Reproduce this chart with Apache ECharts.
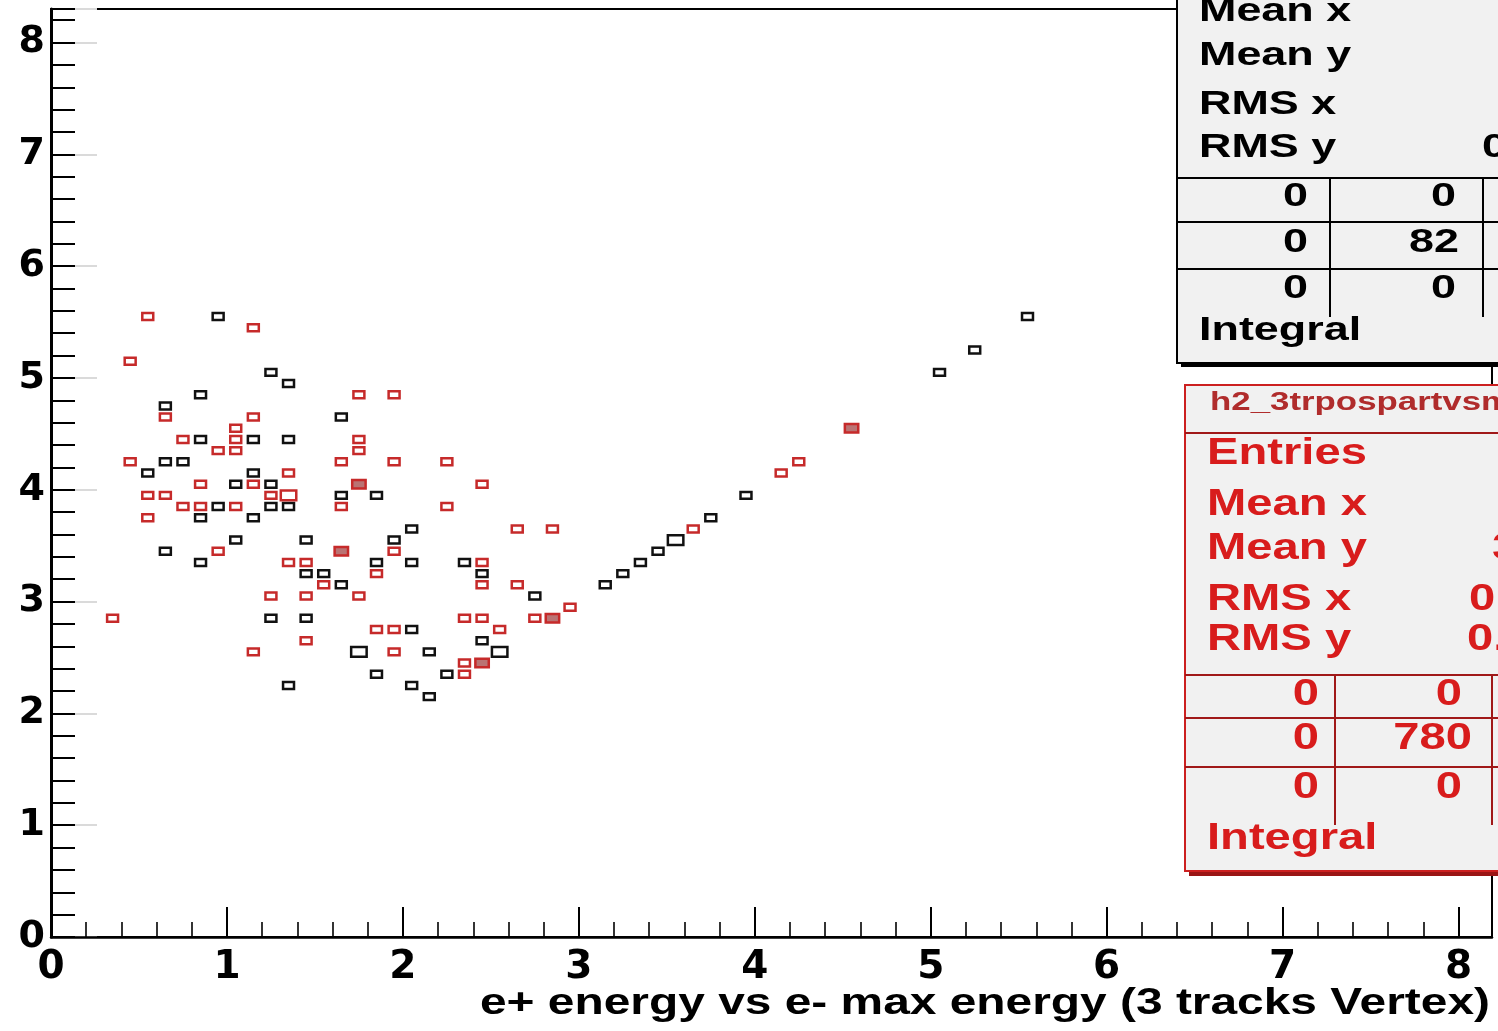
<!DOCTYPE html>
<html>
<head>
<meta charset="utf-8">
<script src="https://cdn.jsdelivr.net/npm/echarts@6/dist/echarts.min.js"></script>
<style>
  html, body { margin: 0; padding: 0; background: #ffffff; }
  #chart { width: 1498px; height: 1031px; }
</style>
</head>
<body>
<div id="chart"></div>
<script>
// Bin contents of the two overlaid 2D histograms: [x bin centre, y bin centre, count]
// Bins are 0.1 x 0.1 wide.
const blackCells = [
  [0.95, 5.55, 1], [1.25, 5.05, 1], [1.35, 4.95, 1], [0.85, 4.85, 1], [0.65, 4.75, 1],
  [1.65, 4.65, 1], [0.85, 4.45, 1], [1.15, 4.45, 1], [1.35, 4.45, 1], [0.65, 4.25, 1],
  [0.75, 4.25, 1], [0.55, 4.15, 1], [1.15, 4.15, 1], [1.05, 4.05, 1], [1.25, 4.05, 1],
  [1.65, 3.95, 1], [1.85, 3.95, 1], [0.95, 3.85, 1], [1.25, 3.85, 1], [1.35, 3.85, 1],
  [0.85, 3.75, 1], [1.15, 3.75, 1], [2.05, 3.65, 1], [1.05, 3.55, 1], [1.45, 3.55, 1],
  [1.95, 3.55, 1], [0.65, 3.45, 1], [0.85, 3.35, 1], [1.85, 3.35, 1], [2.05, 3.35, 1],
  [2.35, 3.35, 1], [1.45, 3.25, 1], [1.55, 3.25, 1], [2.45, 3.25, 1], [1.65, 3.15, 1],
  [2.75, 3.05, 1], [1.25, 2.85, 1], [1.45, 2.85, 1], [2.05, 2.75, 1], [2.45, 2.65, 1],
  [1.75, 2.55, 2], [2.15, 2.55, 1], [2.55, 2.55, 2], [1.85, 2.35, 1], [2.25, 2.35, 1],
  [1.35, 2.25, 1], [2.05, 2.25, 1], [2.15, 2.15, 1],
  [3.15, 3.15, 1], [3.25, 3.25, 1], [3.35, 3.35, 1], [3.45, 3.45, 1], [3.55, 3.55, 2],
  [3.75, 3.75, 1], [3.95, 3.95, 1], [5.05, 5.05, 1], [5.25, 5.25, 1], [5.55, 5.55, 1]
];

const redCells = [
  [0.55, 5.55, 2], [1.15, 5.45, 2], [0.45, 5.15, 2], [1.75, 4.85, 2], [1.95, 4.85, 2],
  [0.65, 4.65, 2], [1.15, 4.65, 2], [1.05, 4.55, 2], [0.75, 4.45, 2], [1.05, 4.45, 2],
  [1.75, 4.45, 2], [0.95, 4.35, 2], [1.05, 4.35, 2], [1.75, 4.35, 2], [0.45, 4.25, 2],
  [1.65, 4.25, 2], [1.95, 4.25, 2], [2.25, 4.25, 2], [1.35, 4.15, 2], [0.85, 4.05, 2],
  [1.15, 4.05, 2], [1.75, 4.05, 3], [2.45, 4.05, 2], [0.55, 3.95, 2], [0.65, 3.95, 2],
  [1.25, 3.95, 2], [1.35, 3.95, 4], [0.75, 3.85, 2], [0.85, 3.85, 2], [1.05, 3.85, 2],
  [1.65, 3.85, 2], [2.25, 3.85, 2], [0.55, 3.75, 2], [2.65, 3.65, 2], [2.85, 3.65, 2],
  [0.95, 3.45, 2], [1.65, 3.45, 3], [1.95, 3.45, 2], [1.35, 3.35, 2], [1.45, 3.35, 2],
  [2.45, 3.35, 2], [1.85, 3.25, 2], [1.55, 3.15, 2], [2.45, 3.15, 2], [2.65, 3.15, 2],
  [1.25, 3.05, 2], [1.45, 3.05, 2], [1.75, 3.05, 2], [2.95, 2.95, 2], [0.35, 2.85, 2],
  [2.35, 2.85, 2], [2.45, 2.85, 2], [2.75, 2.85, 2], [2.85, 2.85, 3], [1.85, 2.75, 2],
  [1.95, 2.75, 2], [2.55, 2.75, 2], [1.45, 2.65, 2], [1.15, 2.55, 2], [1.95, 2.55, 2],
  [2.35, 2.45, 2], [2.45, 2.45, 3], [2.35, 2.35, 2],
  [3.65, 3.65, 2], [4.15, 4.15, 2], [4.25, 4.25, 2], [4.55, 4.55, 3]
];

// Axis tick labels
const xTickLabels = ['0', '1', '2', '3', '4', '5', '6', '7', '8'];
const yTickLabels = ['0', '1', '2', '3', '4', '5', '6', '7', '8'];
const xAxisTitle = 'e+ energy vs e- max energy (3 tracks Vertex)';

// Statistics boxes
const blackStatLabels = ['Mean x', 'Mean y', 'RMS x', 'RMS y'];
const blackTable = [['0', '0'], ['0', '82'], ['0', '0']];
const redStatTitle = 'h2_3trpospartvsm';
const redStatLabels = ['Entries', 'Mean x', 'Mean y', 'RMS x', 'RMS y'];
const redTable = [['0', '0'], ['0', '780'], ['0', '0']];

const BIN_W = 0.1, BIN_H = 0.1;
const X_MAX = 8.19, Y_MAX = 8.3;
const BOX_FILL_RATIO = 0.88;   // largest box covers this share of a bin

// Box side scales with the square root of the bin content (box area ~ content)
function boxRenderer(color, maxCount, darkFill) {
  return function (params, api) {
    const c = api.value(2);
    const centre = api.coord([api.value(0), api.value(1)]);
    const full = api.size([BIN_W, BIN_H]);
    const frac = Math.sqrt(c / maxCount) * BOX_FILL_RATIO;
    const w = full[0] * frac, h = full[1] * frac;
    return {
      type: 'rect',
      shape: { x: centre[0] - w / 2, y: centre[1] - h / 2, width: w, height: h },
      style: {
        fill: (darkFill && c === 3) ? 'rgba(130,0,0,0.55)' : 'none',
        stroke: color,
        lineWidth: 2.5
      }
    };
  };
}

function maxOf(cells) { return Math.max.apply(null, cells.map(d => d[2])); }

function isInt(v) { return Math.abs(v - Math.round(v)) < 1e-6; }

const FONT = '"Liberation Sans", Arial, sans-serif';

function txt(str, x, y, size, sx, color, align) {
  return {
    type: 'text', x: x, y: y, scaleX: sx, z: 120,
    style: {
      text: str, font: 'bold ' + size + 'px ' + FONT, fill: color,
      align: align || 'left', verticalAlign: 'middle'
    }
  };
}
function ln(x1, y1, x2, y2, color, w) {
  return { type: 'line', z: 115, shape: { x1: x1, y1: y1, x2: x2, y2: y2 }, style: { stroke: color, lineWidth: w } };
}

// ---- statistics box (black histogram) ----
const gBlack = [];
gBlack.push({ type: 'rect', z: 110, shape: { x: 1181, y: -20, width: 340, height: 387 }, style: { fill: '#000' } });
gBlack.push({ type: 'rect', z: 111, shape: { x: 1177, y: -20, width: 340, height: 383 }, style: { fill: '#f1f1f1', stroke: '#000', lineWidth: 2 } });
const blackRowY = [12, 56, 105, 148];
blackStatLabels.forEach((s, i) => gBlack.push(txt(s, 1199, blackRowY[i], 33, 1.36, '#000')));
gBlack.push(txt('0', 1482, 148, 33, 1.36, '#000'));
[178, 222, 269].forEach(y => gBlack.push(ln(1177, y, 1510, y, '#000', 2)));
gBlack.push(ln(1330, 178, 1330, 317, '#000', 2));
gBlack.push(ln(1483, 178, 1483, 317, '#000', 2));
const blackTabY = [197, 243, 289];
const blackColR = [1308, 1456];
blackTable.forEach((row, r) => row.forEach((s, c) => gBlack.push(txt(s, blackColR[c] + (s.length > 1 ? 3 : 0), blackTabY[r], 33, 1.36, '#000', 'right'))));
gBlack.push(txt('Integral', 1199, 331, 33, 1.36, '#000'));

// ---- statistics box (red histogram) ----
const RED = '#d81c1c';
const gRed = [];
gRed.push({ type: 'rect', z: 110, shape: { x: 1189, y: 389, width: 340, height: 487 }, style: { fill: '#9a1515' } });
gRed.push({ type: 'rect', z: 111, shape: { x: 1185, y: 385, width: 340, height: 486 }, style: { fill: '#f1f1f1', stroke: '#cc2020', lineWidth: 2 } });
gRed.push(txt(redStatTitle, 1210, 403, 26, 1.34, '#b02c2c'));
gRed.push(ln(1185, 433, 1510, 433, '#a01818', 2));
const redRowY = [454, 505, 549, 600, 640];
redStatLabels.forEach((s, i) => gRed.push(txt(s, 1207, redRowY[i], 36, 1.31, RED)));
gRed.push(txt('3', 1492, 549, 36, 1.31, RED));
gRed.push(txt('0.', 1469, 600, 36, 1.31, RED));
gRed.push(txt('0.', 1467, 640, 36, 1.31, RED));
[675, 718, 767].forEach(y => gRed.push(ln(1185, y, 1510, y, '#a01818', 2)));
gRed.push(ln(1335, 675, 1335, 825, '#a01818', 2));
gRed.push(ln(1492, 675, 1492, 825, '#a01818', 2));
const redTabY = [695, 739, 788];
const redColR = [1319, 1462];
redTable.forEach((row, r) => row.forEach((s, c) => gRed.push(txt(s, redColR[c] + (s.length > 1 ? 10 : 0), redTabY[r], 36, 1.31, RED, 'right'))));
gRed.push(txt('Integral', 1207, 839, 36, 1.31, RED));

// ---- x axis title ----
const gTitle = [txt(xAxisTitle, 1490, 1004, 36, 1.33, '#000', 'right')];

const chart = echarts.init(document.getElementById('chart'), null, { renderer: 'canvas' });

const labelStyle = { fontFamily: '"DejaVu Sans", sans-serif', fontWeight: 'bold', color: '#000' };

chart.setOption({
  animation: false,
  backgroundColor: '#ffffff',
  grid: { left: 51, top: 9, width: 1441, height: 928, show: true, borderColor: '#000', borderWidth: 2, backgroundColor: 'transparent' },
  xAxis: [
    {
      type: 'value', min: 0, max: X_MAX, interval: 1, position: 'bottom', z: 3,
      axisLine: { show: true, onZero: false, lineStyle: { color: '#000', width: 2.5 } },
      axisTick: { show: true, inside: true, length: 30, lineStyle: { color: '#000', width: 2 } },
      axisLabel: Object.assign({ show: true, margin: 11, fontSize: 39, formatter: v => isInt(v) ? xTickLabels[Math.round(v)] : '' }, labelStyle),
      splitLine: { show: false }
    },
    {
      type: 'value', min: 0, max: X_MAX, interval: 0.2, position: 'bottom', z: 3,
      axisLine: { show: false },
      axisTick: { show: true, inside: true, length: 15, lineStyle: { color: '#000', width: 1.6 } },
      axisLabel: { show: false }, splitLine: { show: false }
    }
  ],
  yAxis: [
    {
      type: 'value', min: 0, max: Y_MAX, interval: 1, position: 'left', z: 1,
      axisLine: { show: false },
      axisTick: { show: true, inside: true, length: 46, lineStyle: { color: '#dadada', width: 2 } },
      axisLabel: { show: false }, splitLine: { show: false }
    },
    {
      type: 'value', min: 0, max: Y_MAX, interval: 1, position: 'left', z: 3,
      axisLine: { show: true, onZero: false, lineStyle: { color: '#000', width: 3 } },
      axisTick: { show: true, inside: true, length: 24, lineStyle: { color: '#000', width: 2 } },
      axisLabel: Object.assign({ show: true, margin: 6, fontSize: 38, formatter: v => isInt(v) ? yTickLabels[Math.round(v)] : '' }, labelStyle),
      splitLine: { show: false }
    },
    {
      type: 'value', min: 0, max: Y_MAX, interval: 0.2, position: 'left', z: 3,
      axisLine: { show: false },
      axisTick: { show: true, inside: true, length: 24, lineStyle: { color: '#000', width: 2 } },
      axisLabel: { show: false }, splitLine: { show: false }
    }
  ],
  series: [
    {
      type: 'custom', name: 'black', xAxisIndex: 0, yAxisIndex: 1, z: 5,
      data: blackCells,
      renderItem: boxRenderer('#111111', maxOf(blackCells), false)
    },
    {
      type: 'custom', name: 'red', xAxisIndex: 0, yAxisIndex: 1, z: 6,
      data: redCells,
      renderItem: boxRenderer('#c62a2a', maxOf(redCells), true)
    }
  ],
  graphic: { elements: gBlack.concat(gRed, gTitle) }
});
</script>
</body>
</html>
